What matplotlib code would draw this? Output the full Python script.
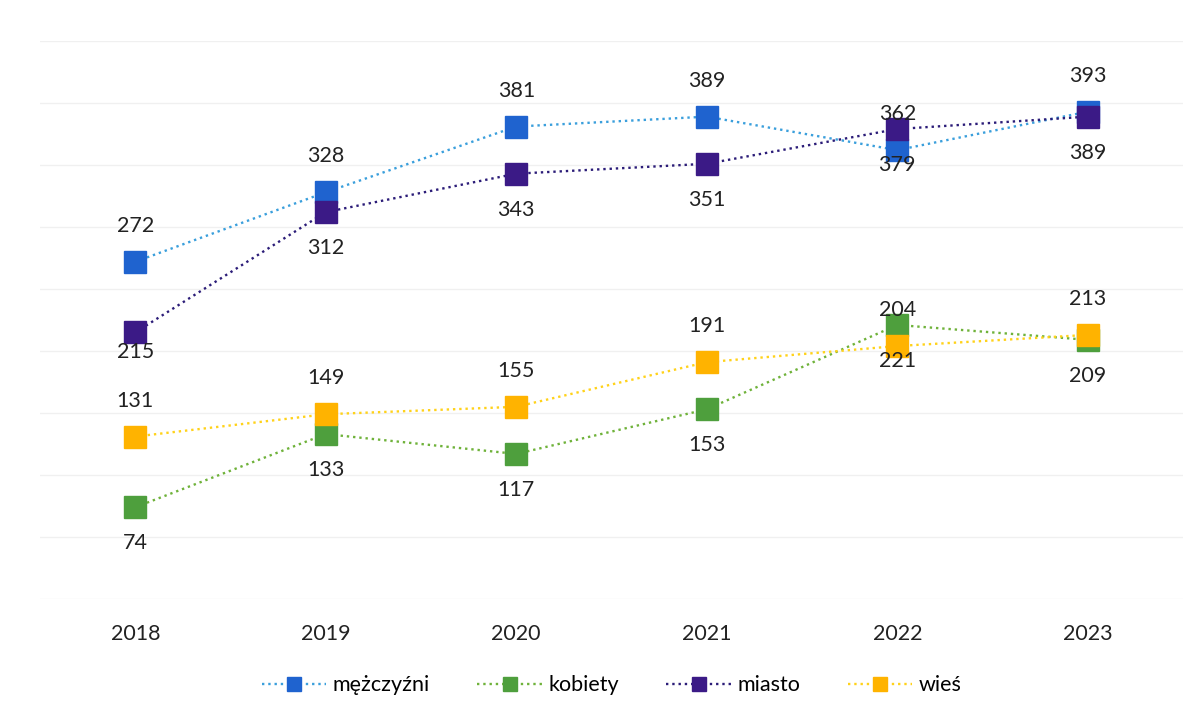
import numpy as np
import matplotlib.pyplot as plt

# dane
lata = ['2018', '2019', '2020', '2021', '2022', '2023']
mezczyzni = [272, 328, 381, 389, 362, 393]
kobiety = [74, 133, 117, 153, 221, 209]
miasto = [215, 312, 343, 351, 379, 389]
wies = [131, 149, 155, 191, 204, 213]

plt.rcParams['font.family'] = ['Lato', 'DejaVu Sans']

fig = plt.figure(figsize=(11.97, 7.07), dpi=100)
ax = fig.add_axes([40 / 1197, 108 / 707, 1143 / 1197, 558 / 707])
x = np.arange(len(lata))

# nazwa, wartosci, kolor linii, kolor znacznika, etykiety nad/pod
serie = [
    ('mężczyźni', mezczyzni, '#3a9fdc', '#1f63cf', 1),
    ('kobiety', kobiety, '#6fb23a', '#4e9f3d', -1),
    ('miasto', miasto, '#2b1c78', '#3b1a86', -1),
    ('wieś', wies, '#ffd21a', '#ffb300', 1),
]

for nazwa, wart, lc, mc, kier in serie:
    ax.plot(x, wart, linestyle=':', color=lc, linewidth=1.7,
            marker='s', markersize=16, markerfacecolor=mc,
            markeredgecolor=mc, label=nazwa)
    for i, v in enumerate(wart):
        off = 36 * kier
        if nazwa == 'miasto' and i == 0:
            off = -20
        ax.annotate(str(v), (x[i], v), xytext=(0, off * 0.72),
                    textcoords='offset points', ha='center', va='center',
                    fontsize=15.5, color='#222222')

ax.set_xlim(-0.5, len(lata) - 0.5)
ax.set_ylim(0, 450)
ax.set_yticks(np.arange(0, 451, 50))
ax.set_yticklabels([])
ax.tick_params(axis='y', length=0)
ax.tick_params(axis='x', length=0, pad=18, labelsize=15.5, labelcolor='#222222')
ax.set_xticks(x)
ax.set_xticklabels(lata)
ax.grid(axis='y', color='#f0f0f0', linewidth=1)
ax.set_axisbelow(True)
for s in ax.spines.values():
    s.set_visible(False)

ax.legend(loc='center', bbox_to_anchor=(0.5, -0.155), ncol=4, frameon=False,
          fontsize=15.5, handlelength=3, columnspacing=2.2, handletextpad=0.3,
          markerscale=0.6)

plt.savefig('out.png', dpi=100)
